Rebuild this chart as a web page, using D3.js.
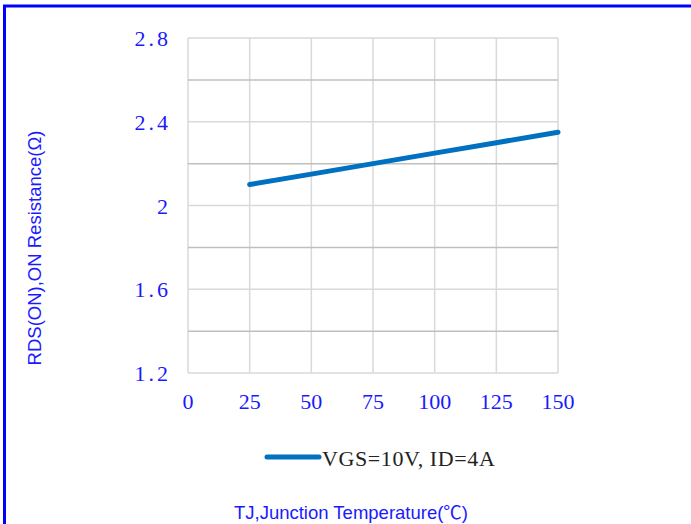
<!DOCTYPE html>
<html>
<head>
<meta charset="utf-8">
<script src="https://cdn.jsdelivr.net/npm/d3@7"></script>
<style>
  html, body { margin: 0; padding: 0; background: #fff; }
</style>
</head>
<body>
<div class="chart"></div>
<script>
// temperature (°C) and on-resistance (Ω)
const temps = [25, 50, 75, 100, 125, 150];
const rdsOn = [2.1, 2.15, 2.2, 2.25, 2.3, 2.35];
const xTicks = [0, 25, 50, 75, 100, 125, 150];
const yTicks = [1.2, 1.6, 2, 2.4, 2.8];
const yMinor = [1.4, 1.8, 2.2, 2.6];
const seriesName = 'VGS=10V, ID=4A';

const width = 691, height = 524;
const blue = '#1a1aff';
const serif = '"Liberation Serif", "DejaVu Serif", serif';
const sans = '"Liberation Sans", Arial, "Noto Sans CJK SC", sans-serif';

const svg = d3.select('.chart').append('svg')
    .attr('width', width).attr('height', height);

// blue frame, top and left only
svg.append('line').attr('x1', 3).attr('x2', width).attr('y1', 6).attr('y2', 6)
    .attr('stroke', '#0000ff').attr('stroke-width', 3);
svg.append('line').attr('x1', 4.5).attr('x2', 4.5).attr('y1', 5).attr('y2', height)
    .attr('stroke', '#0000ff').attr('stroke-width', 3);

const x = d3.scaleLinear().domain([0, 150]).range([188, 558]);
const y = d3.scaleLinear().domain([1.2, 2.8]).range([373, 38]);

// grid
svg.selectAll('line.vgrid').data(xTicks).enter().append('line')
    .attr('class', 'vgrid')
    .attr('x1', d => x(d)).attr('x2', d => x(d))
    .attr('y1', y(2.8)).attr('y2', y(1.2))
    .attr('stroke', '#d9d9d9').attr('stroke-width', 1.5);
svg.selectAll('line.hminor').data(yMinor).enter().append('line')
    .attr('class', 'hminor')
    .attr('x1', x(0)).attr('x2', x(150))
    .attr('y1', d => y(d)).attr('y2', d => y(d))
    .attr('stroke', '#bfbfbf').attr('stroke-width', 1.5);
svg.selectAll('line.hgrid').data(yTicks).enter().append('line')
    .attr('class', 'hgrid')
    .attr('x1', x(0)).attr('x2', x(150))
    .attr('y1', d => y(d)).attr('y2', d => y(d))
    .attr('stroke', '#d9d9d9').attr('stroke-width', 1.5);

// tick labels
svg.selectAll('text.ylab').data(yTicks).enter().append('text')
    .attr('class', 'ylab')
    .attr('x', 171).attr('y', d => y(d) + 8)
    .attr('text-anchor', 'end')
    .attr('font-family', serif).attr('font-size', 22)
    .attr('letter-spacing', 3)
    .attr('fill', blue)
    .text(d => d === 2 ? '2' : d3.format('.1f')(d));
svg.selectAll('text.xlab').data(xTicks).enter().append('text')
    .attr('class', 'xlab')
    .attr('x', d => x(d)).attr('y', 409)
    .attr('text-anchor', 'middle')
    .attr('font-family', serif).attr('font-size', 22)
    .attr('fill', blue)
    .text(d => d);

// series
const pts = temps.map((t, i) => [t, rdsOn[i]]);
svg.append('path').datum(pts)
    .attr('fill', 'none')
    .attr('stroke', '#0070c0').attr('stroke-width', 5)
    .attr('stroke-linecap', 'round')
    .attr('d', d3.line().x(d => x(d[0])).y(d => y(d[1])));

// legend
svg.append('line').attr('x1', 267).attr('x2', 319).attr('y1', 457).attr('y2', 457)
    .attr('stroke', '#0070c0').attr('stroke-width', 5).attr('stroke-linecap', 'round');
svg.append('text').attr('x', 322).attr('y', 466)
    .attr('font-family', serif).attr('font-size', 22)
    .attr('letter-spacing', 0.6)
    .attr('fill', '#222')
    .text(seriesName);

// axis titles
svg.append('text')
    .attr('transform', 'translate(41,248) rotate(-90)')
    .attr('text-anchor', 'middle')
    .attr('font-family', sans).attr('font-size', 18.5)
    .attr('fill', blue)
    .text('RDS(ON),ON Resistance(Ω)');
svg.append('text')
    .attr('x', 351).attr('y', 519)
    .attr('text-anchor', 'middle')
    .attr('font-family', sans).attr('font-size', 18.5)
    .attr('fill', blue)
    .text('TJ,Junction Temperature(℃)');
</script>
</body>
</html>
